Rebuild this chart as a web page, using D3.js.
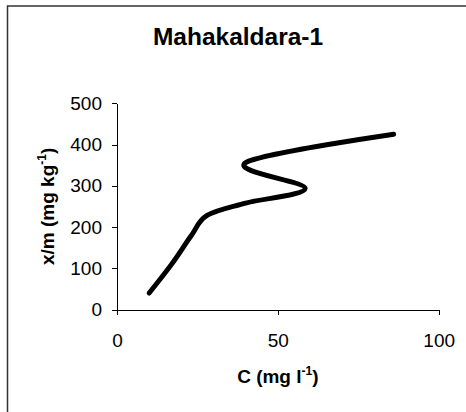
<!DOCTYPE html>
<html>
<head>
	<script src="https://d3js.org/d3.v7.min.js"></script>
	<style>
		body {margin: 0; background: white;}
		text {font-family: Arial, "Liberation Sans", sans-serif; fill: black;}
		.axis path, .axis line {stroke: black; stroke-width: 1; shape-rendering: crispEdges;}
		.axis text {font-size: 19px;}
		.lab {font-weight: bold; font-size: 19px;}
	</style>
</head>
<body>
<div id="chart"></div>
<script>
// isotherm readings taken off the plot (C in mg/l, x/m in mg/kg)
var conc = [10, 17, 23, 28, 40, 58.5, 40, 86];
var sorbed = [40, 110, 178, 228, 258, 294, 356, 425];
var xTicks = [0, 50, 100];
var yTicks = [0, 100, 200, 300, 400, 500];

var svg = d3.select("#chart").append("svg")
	.attr("width", 466)
	.attr("height", 412);

// outer frame, right and bottom edges run off the picture
svg.append("rect")
	.attr("x", 7.5).attr("y", 6)
	.attr("width", 480).attr("height", 430)
	.style("fill", "none")
	.style("stroke", "#333")
	.style("stroke-width", 1.5);

var x = d3.scaleLinear().domain([0, 100]).range([117, 438.7]);
var y = d3.scaleLinear().domain([0, 500]).range([309.5, 103.3]);

svg.append("g").attr("class", "axis")
	.attr("transform", "translate(0," + y(0) + ")")
	.call(d3.axisBottom(x).tickValues(xTicks).tickSize(5).tickSizeOuter(0).tickPadding(19));

svg.append("g").attr("class", "axis")
	.attr("transform", "translate(" + x(0) + ",0)")
	.call(d3.axisLeft(y).tickValues(yTicks).tickSize(5).tickSizeOuter(0).tickPadding(10));

var pts = conc.map(function(c, i) { return [c, sorbed[i]]; });
var line = d3.line()
	.x(function(d) { return x(d[0]); })
	.y(function(d) { return y(d[1]); })
	.curve(d3.curveCatmullRom.alpha(0));

svg.append("path")
	.datum(pts)
	.attr("d", line)
	.style("fill", "none")
	.style("stroke", "black")
	.style("stroke-width", 5)
	.style("stroke-linecap", "round")
	.style("stroke-linejoin", "round");

svg.append("text")
	.attr("x", 238).attr("y", 45)
	.attr("text-anchor", "middle")
	.style("font-weight", "bold")
	.style("font-size", "24.5px")
	.text("Mahakaldara-1");

var xl = svg.append("text").attr("class", "lab")
	.attr("x", x(50)).attr("y", 383)
	.attr("text-anchor", "middle");
xl.append("tspan").text("C (mg l");
xl.append("tspan").attr("dy", -8).style("font-size", "12px").text("-1");
xl.append("tspan").attr("dy", 8).text(")");

var yl = svg.append("text").attr("class", "lab")
	.attr("transform", "translate(54," + y(250) + ") rotate(-90)")
	.attr("text-anchor", "middle");
yl.append("tspan").text("x/m (mg kg");
yl.append("tspan").attr("dy", -8).style("font-size", "12px").text("-1");
yl.append("tspan").attr("dy", 8).text(")");
</script>
</body>
</html>
